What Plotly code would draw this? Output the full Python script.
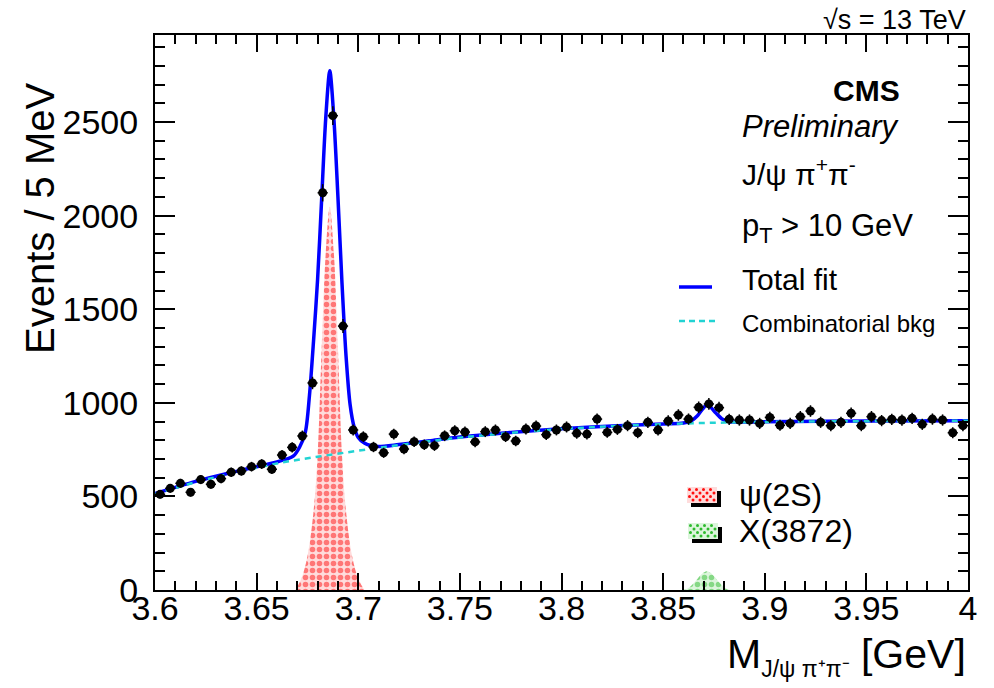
import numpy as np
import plotly.graph_objects as go

# ---------------- data ----------------
bin_low = 3.6
bin_width = 0.005
counts = [511, 543, 570, 522, 590, 565, 595, 629, 636, 659,
          673, 645, 721, 762, 823, 1106, 2122, 2534, 1410, 855,
          819, 764, 733, 833, 753, 792, 776, 771, 824, 851,
          844, 791, 846, 855, 819, 796, 860, 876, 830, 855,
          871, 837, 833, 913, 842, 858, 878, 840, 896, 855,
          903, 935, 913, 976, 994, 974, 912, 908, 908, 890,
          922, 880, 890, 926, 956, 896, 878, 896, 944, 878,
          926, 905, 912, 908, 917, 885, 913, 908, 840, 878]

fit_x = [3.600, 3.610, 3.620, 3.630, 3.640, 3.650, 3.660, 3.665, 3.668, 3.671,
         3.674, 3.676, 3.678, 3.680, 3.682, 3.684, 3.686, 3.688, 3.690, 3.692,
         3.694, 3.696, 3.698, 3.700, 3.703, 3.706, 3.710, 3.720, 3.735, 3.750,
         3.775, 3.800, 3.825, 3.850, 3.860, 3.864, 3.867, 3.8695, 3.8715, 3.8735,
         3.876, 3.879, 3.883, 3.890, 3.900, 3.950, 4.000]
fit_y = [515, 548, 580, 608, 634, 658, 684, 700, 715, 760,
         845, 1040, 1330, 1660, 2090, 2520, 2774, 2520, 2100, 1640,
         1250, 990, 870, 815, 785, 772, 766, 777, 797, 817,
         842, 862, 876, 887, 892, 905, 932, 968, 988, 975,
         945, 914, 899, 897, 899, 903, 904]

bkg_x = [3.600, 3.620, 3.640, 3.660, 3.680, 3.700, 3.720, 3.750, 3.800, 3.850, 3.900, 3.950, 4.000]
bkg_y = [512, 576, 628, 676, 712, 744, 774, 814, 860, 886, 898, 902, 904]

psi_x = [3.669, 3.672, 3.675, 3.678, 3.680, 3.682, 3.684, 3.686, 3.688, 3.690, 3.692, 3.694, 3.697, 3.700, 3.703]
psi_y = [0, 60, 180, 420, 720, 1290, 1800, 2048, 1800, 1290, 720, 420, 180, 60, 0]

x3872_x = [3.860, 3.863, 3.866, 3.869, 3.8715, 3.874, 3.877, 3.880, 3.883]
x3872_y = [0, 15, 48, 85, 100, 85, 48, 15, 0]

x_tick_vals = [3.6, 3.65, 3.7, 3.75, 3.8, 3.85, 3.9, 3.95, 4.0]
x_tick_text = ["3.6", "3.65", "3.7", "3.75", "3.8", "3.85", "3.9", "3.95", "4"]
y_tick_vals = [0, 500, 1000, 1500, 2000, 2500]
y_tick_text = ["0", "500", "1000", "1500", "2000", "2500"]

bin_centers = [bin_low + bin_width * (i + 0.5) for i in range(len(counts))]
errors = list(np.sqrt(counts))

FONT = "Liberation Sans, Arial, Helvetica, sans-serif"
RED = "#ff1010"
RED_BG = "#ffdcdc"
GREEN = "#2dbb2d"
GREEN_BG = "#dcf5dc"
BLUE = "#0000ff"
CYAN = "#22d3d3"

fig = go.Figure()

fig.add_trace(go.Scatter(
    x=psi_x, y=psi_y, mode="lines", name="ψ(2S)",
    line=dict(width=0, shape="spline", color=RED),
    fill="tozeroy", fillcolor=RED_BG,
    fillpattern=dict(shape=".", fgcolor=RED, bgcolor=RED_BG, size=7, solidity=0.5),
    showlegend=False, hoverinfo="skip"))

fig.add_trace(go.Scatter(
    x=x3872_x, y=x3872_y, mode="lines", name="X(3872)",
    line=dict(width=0, shape="spline", color=GREEN),
    fill="tozeroy", fillcolor=GREEN_BG,
    fillpattern=dict(shape=".", fgcolor=GREEN, bgcolor=GREEN_BG, size=7, solidity=0.5),
    showlegend=False, hoverinfo="skip"))

fig.add_trace(go.Scatter(
    x=fit_x, y=fit_y, mode="lines", name="Total fit",
    line=dict(color=BLUE, width=3.5, shape="spline", smoothing=0.8),
    showlegend=False, hoverinfo="skip"))

fig.add_trace(go.Scatter(
    x=bkg_x, y=bkg_y, mode="lines", name="Combinatorial bkg",
    line=dict(color=CYAN, width=2.5, dash="6px,5px", shape="spline"),
    showlegend=False, hoverinfo="skip"))

fig.add_trace(go.Scatter(
    x=bin_centers, y=counts, mode="markers", name="Data",
    marker=dict(color="black", size=9),
    error_y=dict(type="data", array=errors, color="black", thickness=1.5, width=0),
    error_x=dict(type="constant", value=bin_width / 2, color="black", thickness=1.5, width=0),
    showlegend=False))

axis_common = dict(
    showline=True, linecolor="black", linewidth=2, mirror="allticks",
    ticks="inside", tickcolor="black", tickwidth=2,
    showgrid=False, zeroline=False,
    tickfont=dict(family=FONT, size=34, color="black"),
)

fig.update_xaxes(range=[3.6, 4.0], tickvals=x_tick_vals, ticktext=x_tick_text,
                 ticklen=17,
                 minor=dict(dtick=0.01, ticks="inside", ticklen=9, tickwidth=1.5, tickcolor="black", showgrid=False),
                 **axis_common)
fig.update_yaxes(range=[0, 2965], tickvals=y_tick_vals, ticktext=y_tick_text,
                 ticklen=20,
                 minor=dict(dtick=100, ticks="inside", ticklen=10, tickwidth=1.5, tickcolor="black", showgrid=False),
                 **axis_common)
try:
    fig.update_yaxes(ticklabelstandoff=8)
except Exception:
    pass
try:
    fig.update_xaxes(ticklabelstandoff=-13)
except Exception:
    pass


def px_x(p):
    return (p - 155) / 813.0


def px_y(p):
    return (590 - p) / 555.0


# ---------------- legend keys drawn as layout decorations ----------------
shapes = []


def line_key(x0, x1, yc, color, width, dash):
    shapes.append(dict(type="line", xref="paper", yref="paper",
                       x0=px_x(x0), x1=px_x(x1), y0=px_y(yc), y1=px_y(yc),
                       line=dict(color=color, width=width, dash=dash)))


def box_key(x0, y0, w, h, fg, bg):
    # black shadow, then dotted box
    shapes.append(dict(type="rect", xref="paper", yref="paper",
                       x0=px_x(x0 + 4), x1=px_x(x0 + w + 4), y0=px_y(y0 + h + 4), y1=px_y(y0 + 4),
                       fillcolor="black", line=dict(width=0)))
    shapes.append(dict(type="rect", xref="paper", yref="paper",
                       x0=px_x(x0), x1=px_x(x0 + w), y0=px_y(y0 + h), y1=px_y(y0),
                       fillcolor=bg, line=dict(width=0)))
    step = 7
    r = 1.5
    row = 0
    yy = y0 + 2.5
    while yy < y0 + h - 1:
        xx = x0 + 2.5 + (step / 2 if row % 2 else 0)
        while xx < x0 + w - 1:
            shapes.append(dict(type="circle", xref="paper", yref="paper",
                               x0=px_x(xx - r), x1=px_x(xx + r), y0=px_y(yy + r), y1=px_y(yy - r),
                               fillcolor=fg, line=dict(width=0)))
            xx += step
        yy += step / 2
        row += 1


line_key(679, 712, 287, BLUE, 3.5, "solid")
line_key(679, 717, 321, CYAN, 2.5, "6px,4px")
box_key(687, 487, 30, 16, RED, RED_BG)
box_key(688, 523, 30, 16, GREEN, GREEN_BG)

fig.update_layout(
    width=994, height=688,
    margin=dict(l=155, r=26, t=35, b=98),
    paper_bgcolor="white", plot_bgcolor="white",
    font=dict(family=FONT, color="black"),
    showlegend=False,
    shapes=shapes,
    annotations=[
        dict(text="√s = 13 TeV", x=1.0, xref="paper", xanchor="right", y=px_y(20), yref="paper",
             yanchor="middle", showarrow=False, font=dict(size=27, family=FONT)),
        dict(text="<b>CMS</b>", x=px_x(902), xref="paper", xanchor="right", y=px_y(91), yref="paper",
             yanchor="middle", showarrow=False, font=dict(size=30, family=FONT)),
        dict(text="<i>Preliminary</i>", x=px_x(740), xref="paper", xanchor="left", y=px_y(127), yref="paper",
             yanchor="middle", showarrow=False, font=dict(size=31, family=FONT)),
        dict(text="J/ψ π<sup>+</sup>π<sup>-</sup>", x=px_x(740), xref="paper", xanchor="left", y=px_y(172),
             yref="paper", yanchor="middle", showarrow=False, font=dict(size=30, family=FONT)),
        dict(text="p<sub>T</sub> &gt; 10 GeV", x=px_x(740), xref="paper", xanchor="left", y=px_y(228),
             yref="paper", yanchor="middle", showarrow=False, font=dict(size=31, family=FONT)),
        dict(text="Total fit", x=px_x(740), xref="paper", xanchor="left", y=px_y(279),
             yref="paper", yanchor="middle", showarrow=False, font=dict(size=30, family=FONT)),
        dict(text="Combinatorial bkg", x=px_x(740), xref="paper", xanchor="left", y=px_y(323),
             yref="paper", yanchor="middle", showarrow=False, font=dict(size=24, family=FONT)),
        dict(text="ψ(2S)", x=px_x(737), xref="paper", xanchor="left", y=px_y(495),
             yref="paper", yanchor="middle", showarrow=False, font=dict(size=32, family=FONT)),
        dict(text="X(3872)", x=px_x(737), xref="paper", xanchor="left", y=px_y(531),
             yref="paper", yanchor="middle", showarrow=False, font=dict(size=32, family=FONT)),
        dict(text="Events / 5 MeV", textangle=-90, x=px_x(40), xref="paper", xanchor="center",
             y=px_y(218), yref="paper", yanchor="middle", showarrow=False, font=dict(size=40, family=FONT)),
        dict(text="M<sub><span style='font-size:23px'>J/ψ π⁺π⁻</span></sub> [GeV]", x=1.0, xref="paper",
             xanchor="right", y=px_y(656), yref="paper", yanchor="middle", showarrow=False,
             font=dict(size=41, family=FONT)),
    ],
)

fig.write_html("out.html")
